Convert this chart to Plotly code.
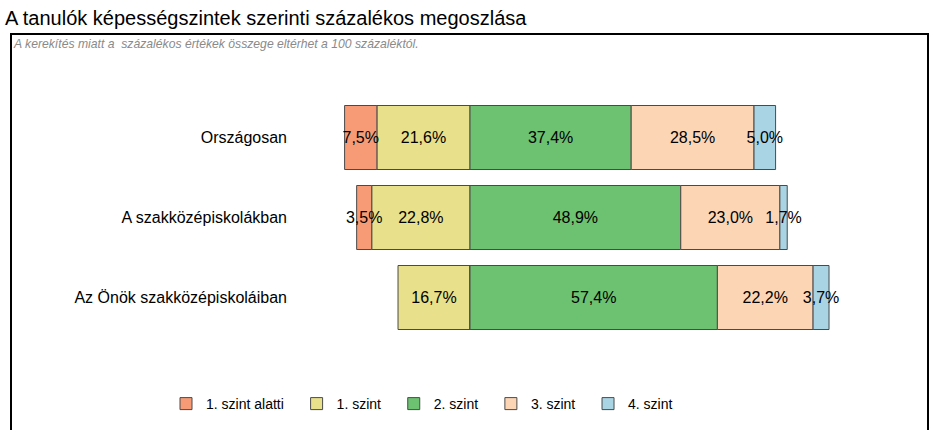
import plotly.graph_objects as go

categories = ["Országosan", "A szakközépiskolákban", "Az Önök szakközépiskoláiban"]
levels = ["1. szint alatti", "1. szint", "2. szint", "3. szint", "4. szint"]
below1 = [7.5, 3.5, 0.0]
level1 = [21.6, 22.8, 16.7]
level2 = [37.4, 48.9, 57.4]
level3 = [28.5, 23.0, 22.2]
level4 = [5.0, 1.7, 3.7]
colors = ["#F69B76", "#E8E08A", "#6CC270", "#FCD5B5", "#A9D4E4"]

PX_PER_PCT = 4.31
ANCHOR_PX = 470
W, H = 941, 430
DOMAIN_LEFT_PX = 288


def fmt(v):
    return "" if v == 0 else f"{v:.1f}".replace(".", ",") + "%"


series = {
    "1. szint alatti": (below1, -1),
    "1. szint": (level1, -1),
    "2. szint": (level2, 1),
    "3. szint": (level3, 1),
    "4. szint": (level4, 1),
}
# order of traces for relative stacking (negatives: nearest to zero first)
trace_order = ["1. szint", "1. szint alatti", "2. szint", "3. szint", "4. szint"]

fig = go.Figure()
for name in trace_order:
    vals, sign = series[name]
    idx = levels.index(name)
    fig.add_trace(go.Bar(
        y=categories,
        x=[sign * v for v in vals],
        orientation="h",
        name=name + "\u00a0\u00a0",
        legendrank=idx + 1,
        marker=dict(color=colors[idx], line=dict(color="#4a4a4a", width=1)),
        text=[fmt(v) for v in vals],
        textposition="inside",
        insidetextanchor="middle",
        constraintext="none",
        textangle=0,
        textfont=dict(family="Liberation Sans, Arial", size=16, color="black"),
        hoverinfo="skip",
    ))

xmin = (DOMAIN_LEFT_PX - ANCHOR_PX) / PX_PER_PCT
xmax = (W - ANCHOR_PX) / PX_PER_PCT
row0_px, row_step = 137.5, 80
ytop = -row0_px / row_step
ybot = ytop + H / row_step

fig.update_layout(
    width=W, height=H,
    margin=dict(l=0, r=0, t=0, b=0),
    paper_bgcolor="white", plot_bgcolor="white",
    barmode="relative", bargap=0.2,
    font=dict(family="Liberation Sans, Arial", color="black"),
    xaxis=dict(domain=[DOMAIN_LEFT_PX / W, 1], range=[xmin, xmax], showgrid=False,
               zeroline=False, showticklabels=False, showline=False, fixedrange=True),
    yaxis=dict(type="category", range=[ybot, ytop], showgrid=False, zeroline=False,
               showline=False, ticks="", automargin=False,
               tickfont=dict(family="Liberation Sans, Arial", size=16, color="black")),
    title=dict(text="A tanulók képességszintek szerinti százalékos megoszlása",
               x=5 / W, xanchor="left", xref="paper", y=1 - 18 / H, yref="container",
               yanchor="middle", font=dict(family="Liberation Sans, Arial", size=20, color="black")),
    legend=dict(orientation="h", x=166 / W, xanchor="left", y=1 - 404 / H, yanchor="middle",
                font=dict(family="Liberation Sans, Arial", size=14, color="black"),
                traceorder="normal", bgcolor="rgba(0,0,0,0)"),
    showlegend=True,
    shapes=[dict(type="rect", xref="paper", yref="paper", x0=11 / W, x1=928 / W,
                 y0=-0.1, y1=1 - 34 / H, line=dict(color="black", width=2),
                 fillcolor="rgba(0,0,0,0)", layer="below")],
    annotations=[dict(text="A kerekítés miatt a  százalékos értékek összege eltérhet a 100 százaléktól.",
                      xref="paper", yref="paper", x=11 / W, y=1 - 44 / H, xanchor="left",
                      yanchor="middle", showarrow=False,
                      font=dict(family="Liberation Sans, Arial", size=12.2, color="#8a8a8a",
                                style="italic"))],
)

fig.write_html("out.html")
